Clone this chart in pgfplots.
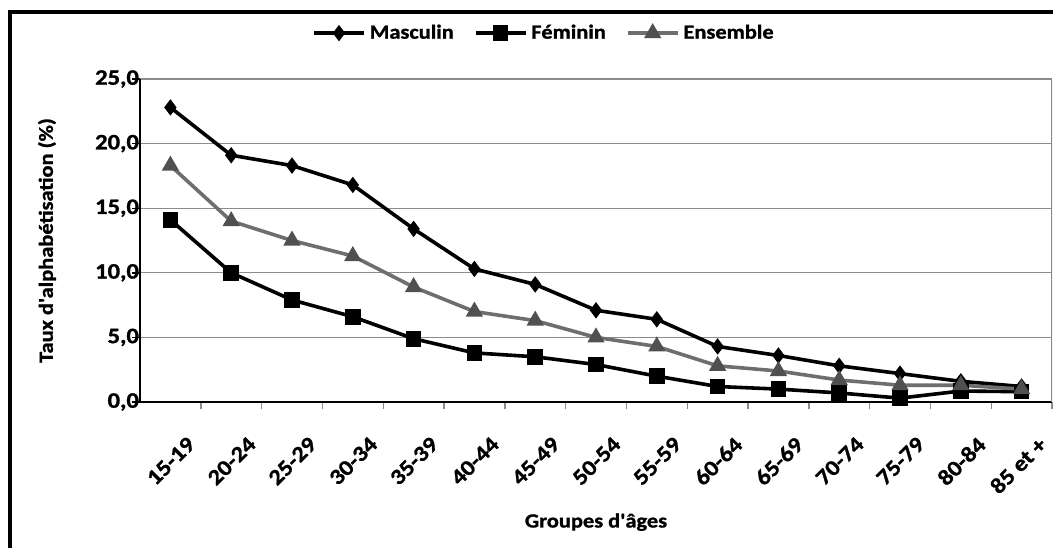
\documentclass[border=0pt]{standalone}
\usepackage{fontspec}
\setmainfont{Carlito}[FakeStretch=1.12, Ligatures=TeXOff, BoldFeatures={FakeBold=1.2}]
\usepackage{pgfplots}
\pgfplotsset{compat=1.18}
\definecolor{ensl}{RGB}{110,110,110}
\definecolor{ensm}{RGB}{80,80,80}
\definecolor{gridc}{RGB}{140,140,140}
\begin{document}
\begin{tikzpicture}
\useasboundingbox (0pt,0pt) rectangle (526.5pt,274pt);
\draw[line width=2pt] (5pt,0pt) -- (5pt,268pt) -- (530pt,268pt);
\begin{axis}[
  at={(70pt,73pt)}, anchor=south west,
  width=456pt, height=161.5pt, scale only axis,
  xmin=-0.5, xmax=14.5, ymin=0, ymax=25,
  axis x line*=bottom, axis y line*=left,
  axis line style={line width=1.1pt, black, -},
  xtick={0,...,14},
  xticklabels={15-19,20-24,25-29,30-34,35-39,40-44,45-49,50-54,55-59,60-64,65-69,70-74,75-79,80-84,85 et +},
  major x tick style={draw=none},
  minor xtick={0.5,1.5,...,14.5},
  minor x tick style={gridc, line width=0.7pt},
  minor tick length=3.5pt,
  extra x ticks={-0.5}, extra x tick labels={},
  extra x tick style={major x tick style={black, line width=1.1pt}, major tick length=5pt},
  ytick={0,5,...,25},
  major tick length=4pt,
  y tick style={black, line width=0.7pt},
  tick align=outside,
  ymajorgrids, grid style={gridc, line width=0.6pt},
  /pgf/number format/.cd, fixed, fixed zerofill, precision=1, use comma, assume math mode=true,
  /pgfplots/.cd,
  x tick label style={rotate=45, anchor=north east, font=\bfseries\fontsize{11}{13}\selectfont, yshift=-11pt, xshift=0pt},
  y tick label style={font=\bfseries\fontsize{11}{13}\selectfont, xshift=7pt},
  xlabel={Groupes d'âges},
  ylabel={Taux d'alphabétisation (\%)},
  label style={font=\bfseries\fontsize{10}{12}\selectfont},
  x label style={at={(axis description cs:0.5,-0.372)}, anchor=center},
  y label style={at={(axis description cs:-0.102,0.5)}, anchor=center, rotate=0},
  legend style={draw=none, fill=none, at={(axis description cs:0.444,1.142)}, anchor=center,
    legend columns=3, font=\bfseries\fontsize{10}{12}\selectfont,
    /tikz/every even column/.append style={column sep=8pt},
    /tikz/every odd column/.append style={column sep=0pt}},
  legend cell align=left,
  legend image code/.code={\draw[mark repeat=2, mark phase=2] plot coordinates {(0pt,0pt) (12.5pt,0pt) (25pt,0pt)};},
]
\draw[gridc, line width=0.6pt] (rel axis cs:1,0) -- (rel axis cs:1,1);
\addplot[black, line width=1.8pt, mark=diamond*, mark size=3.3pt, mark options={solid, fill=black, line width=1pt}] coordinates {
(0,22.8) (1,19.1) (2,18.3) (3,16.8) (4,13.4) (5,10.3) (6,9.1) (7,7.1) (8,6.4) (9,4.3) (10,3.6) (11,2.8) (12,2.2) (13,1.6) (14,1.2)};
\addlegendentry{Masculin}
\addplot[black, line width=1.8pt, mark=square*, mark size=3.4pt, mark options={solid, fill=black, line width=1pt}] coordinates {
(0,14.1) (1,10.0) (2,7.9) (3,6.6) (4,4.9) (5,3.8) (6,3.5) (7,2.9) (8,2.0) (9,1.2) (10,1.0) (11,0.7) (12,0.3) (13,0.85) (14,0.8)};
\addlegendentry{Féminin}
\addplot[ensl, line width=1.8pt, mark=triangle*, mark size=4pt, mark options={solid, fill=ensm, draw=ensm, line width=1pt}] coordinates {
(0,18.3) (1,14.0) (2,12.5) (3,11.3) (4,8.9) (5,7.0) (6,6.3) (7,5.0) (8,4.3) (9,2.8) (10,2.4) (11,1.7) (12,1.3) (13,1.3) (14,1.0)};
\addlegendentry{Ensemble}
\end{axis}
\end{tikzpicture}
\end{document}
